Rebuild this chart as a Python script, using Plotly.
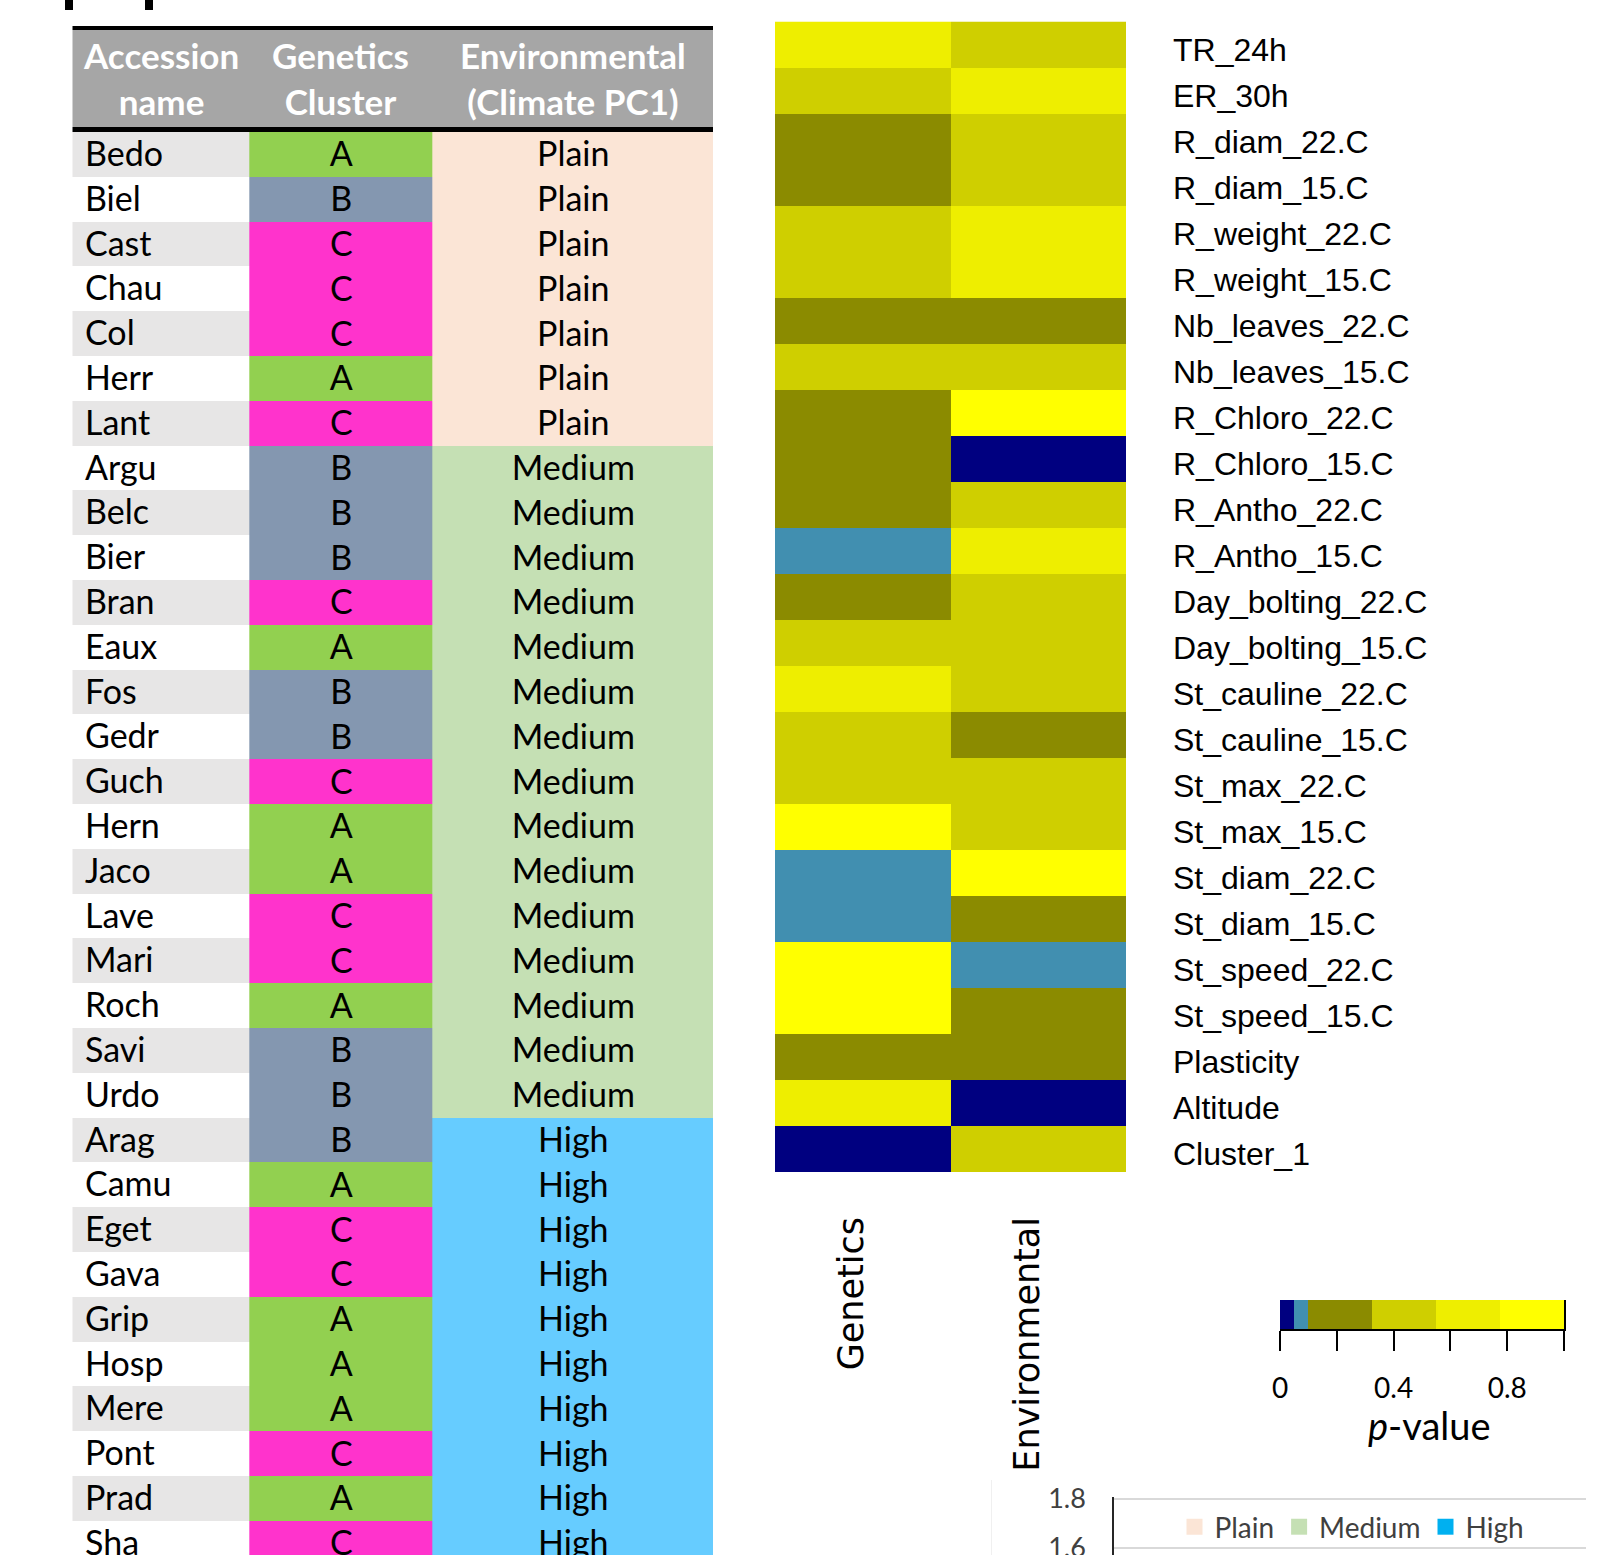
import plotly.graph_objects as go

W, H = 1605, 1555

# ---------------- data: accession table ----------------
accessions = ["Bedo", "Biel", "Cast", "Chau", "Col", "Herr", "Lant",
              "Argu", "Belc", "Bier", "Bran", "Eaux", "Fos", "Gedr", "Guch",
              "Hern", "Jaco", "Lave", "Mari", "Roch", "Savi", "Urdo",
              "Arag", "Camu", "Eget", "Gava", "Grip", "Hosp", "Mere", "Pont",
              "Prad", "Sha"]
genetic_cluster = ["A", "B", "C", "C", "C", "A", "C",
                   "B", "B", "B", "C", "A", "B", "B", "C",
                   "A", "A", "C", "C", "A", "B", "B",
                   "B", "A", "C", "C", "A", "A", "A", "C",
                   "A", "C"]
environment = ["Plain", "Plain", "Plain", "Plain", "Plain", "Plain", "Plain",
               "Medium", "Medium", "Medium", "Medium", "Medium", "Medium", "Medium", "Medium",
               "Medium", "Medium", "Medium", "Medium", "Medium", "Medium", "Medium",
               "High", "High", "High", "High", "High", "High", "High", "High",
               "High", "High"]
header_labels = ["Accession<br>name", "Genetics<br>Cluster", "Environmental<br>(Climate PC1)"]

# ---------------- data: p-value heatmap ----------------
traits = ["TR_24h", "ER_30h", "R_diam_22.C", "R_diam_15.C", "R_weight_22.C",
          "R_weight_15.C", "Nb_leaves_22.C", "Nb_leaves_15.C", "R_Chloro_22.C",
          "R_Chloro_15.C", "R_Antho_22.C", "R_Antho_15.C", "Day_bolting_22.C",
          "Day_bolting_15.C", "St_cauline_22.C", "St_cauline_15.C", "St_max_22.C",
          "St_max_15.C", "St_diam_22.C", "St_diam_15.C", "St_speed_22.C",
          "St_speed_15.C", "Plasticity", "Altitude", "Cluster_1"]
factors = ["Genetics", "Environmental"]
p_genetics = [0.65, 0.45, 0.20, 0.20, 0.45, 0.45, 0.20, 0.45, 0.20, 0.20,
              0.20, 0.07, 0.20, 0.45, 0.65, 0.45, 0.45, 0.90, 0.07, 0.07,
              0.90, 0.90, 0.20, 0.65, 0.02]
p_environmental = [0.45, 0.65, 0.45, 0.45, 0.65, 0.65, 0.20, 0.45, 0.90, 0.02,
                   0.45, 0.65, 0.45, 0.45, 0.45, 0.20, 0.45, 0.45, 0.90, 0.20,
                   0.07, 0.20, 0.20, 0.02, 0.45]
pvalue_ticks = [0, 0.2, 0.4, 0.6, 0.8, 1.0]
pvalue_ticktext = ["0", "", "0.4", "", "0.8", ""]

# ---------------- data: partial bottom chart ----------------
legend_classes = ["Plain", "Medium", "High"]
bottom_ticks = [1.6, 1.8]
bottom_ticktext = ["1.6", "1.8"]

# ---------------- styles ----------------
cluster_code = {"A": 2, "B": 3, "C": 4}
env_code = {"Plain": 5, "Medium": 6, "High": 7}
table_colors = ["#ffffff", "#e7e6e6", "#92d050", "#8497b0", "#ff33cc",
                "#fbe5d6", "#c5e0b4", "#66ccff", "#a6a6a6", "#000000"]
n_codes = len(table_colors)
table_cs = []
for i, c in enumerate(table_colors):
    table_cs.append([i / n_codes, c])
    table_cs.append([(i + 1) / n_codes, c])

pv_cs = [[0, "#000080"], [0.05, "#000080"], [0.05, "#418fb0"], [0.1, "#418fb0"],
         [0.1, "#8b8b00"], [0.325, "#8b8b00"], [0.325, "#cfcf00"], [0.55, "#cfcf00"],
         [0.55, "#eeee00"], [0.775, "#eeee00"], [0.775, "#ffff00"], [1, "#ffff00"]]
legend_colors = {"Plain": "#fbe5d6", "Medium": "#c5e0b4", "High": "#00b0f0"}

TABLE_FONT = "Lato, 'Open Sans', sans-serif"


def fx(px):
    return px / W


def fy(py):
    return 1 - py / H


# table geometry (pixels)
TBL_LEFT, TBL_TOP, TBL_RIGHT = 72.3, 26.0, 713.0
col_edges = [0, 176.7, 360.4, TBL_RIGHT - TBL_LEFT]
ROW_H = 44.8
head_edges = [0, 4, 100.5, 106]
row_edges = head_edges + [head_edges[-1] + ROW_H * (k + 1) for k in range(len(accessions))]

# ---------------- build table heatmap ----------------
z_tab = [[9, 9, 9], [8, 8, 8], [9, 9, 9]]
t_tab = [["", "", ""], ["", "", ""], ["", "", ""]]
for i in range(len(accessions)):
    z_tab.append([1 if i % 2 == 0 else 0, cluster_code[genetic_cluster[i]], env_code[environment[i]]])
    t_tab.append(["", genetic_cluster[i], environment[i]])

fig = go.Figure()
fig.add_trace(go.Heatmap(
    z=z_tab, x=col_edges, y=row_edges, text=t_tab, texttemplate="%{text}",
    textfont=dict(family=TABLE_FONT, size=34, color="black"),
    colorscale=table_cs, zmin=-0.5, zmax=n_codes - 0.5, showscale=False,
    hoverinfo="skip", xaxis="x", yaxis="y"))

annotations = []
for i, name in enumerate(accessions):
    yc = (row_edges[i + 3] + row_edges[i + 4]) / 2
    annotations.append(dict(x=10.5, y=yc, xref="x", yref="y", text=name, showarrow=False,
                            xanchor="left", yanchor="middle", yshift=2,
                            font=dict(family=TABLE_FONT, size=34, color="black")))
for j, lab in enumerate(header_labels):
    annotations.append(dict(x=(col_edges[j] + col_edges[j + 1]) / 2, y=(head_edges[1] + head_edges[2]) / 2,
                            xref="x", yref="y", text=lab, showarrow=False,
                            xanchor="center", yanchor="middle",
                            font=dict(family=TABLE_FONT, size=35, color="white", weight="bold")))

# ---------------- p-value heatmap ----------------
z_pv = [[g, e] for g, e in zip(p_genetics, p_environmental)]
CB_X0, CB_X1, CB_Y0, CB_Y1 = 1280, 1564, 1300, 1328.5
fig.add_trace(go.Heatmap(
    z=z_pv, x=factors, y=traits, colorscale=pv_cs, zmin=0, zmax=1,
    xaxis="x2", yaxis="y2", hoverinfo="skip",
    colorbar=dict(orientation="h", xref="container", yref="container",
                  x=fx(CB_X0), xanchor="left", y=fy(CB_Y0), yanchor="top",
                  len=CB_X1 - CB_X0, lenmode="pixels", thickness=CB_Y1 - CB_Y0,
                  xpad=0, ypad=0, outlinewidth=0, ticks="", showticklabels=False)))

# axis carrying the colour-bar ticks
fig.add_trace(go.Scatter(x=[None], y=[None], xaxis="x4", yaxis="y4", showlegend=False,
                         hoverinfo="skip"))

annotations.append(dict(x=fx(1429), y=fy(1425), xref="paper", yref="paper",
                        text="<i>p</i>-value", showarrow=False, xanchor="center", yanchor="middle",
                        font=dict(family=TABLE_FONT, size=38, color="black")))

# ---------------- bottom partial chart legend ----------------
for cls in legend_classes:
    fig.add_trace(go.Scatter(x=[None], y=[None], mode="markers", name=cls,
                             marker=dict(symbol="square", size=16, color=legend_colors[cls]),
                             xaxis="x3", yaxis="y3", hoverinfo="skip"))

shapes = [
    dict(type="rect", xref="paper", yref="paper", x0=fx(65), x1=fx(73), y0=fy(10), y1=1,
         fillcolor="black", line=dict(width=0)),
    dict(type="rect", xref="paper", yref="paper", x0=fx(145), x1=fx(153), y0=fy(10), y1=1,
         fillcolor="black", line=dict(width=0)),
    dict(type="line", xref="paper", yref="paper", x0=fx(991.5), x1=fx(991.5), y0=0, y1=fy(1480),
         line=dict(width=1, color="#f0f0f0")),
]

BOT_PX_PER_UNIT = 245
BOT_TOP_PX = 1497
bot_range = [1.8 - (H - 1499) / BOT_PX_PER_UNIT, 1.8 + (1499 - BOT_TOP_PX) / BOT_PX_PER_UNIT]

noaxis = dict(showgrid=False, zeroline=False, automargin=False)
fig.update_layout(
    width=W, height=H, margin=dict(l=0, r=0, t=0, b=0, pad=0, autoexpand=False),
    paper_bgcolor="white", plot_bgcolor="white",
    showlegend=True,
    legend=dict(orientation="h", xref="container", yref="container",
                x=fx(1174.5), xanchor="left", y=fy(1527), yanchor="middle",
                font=dict(family=TABLE_FONT, size=28, color="#404040"), bgcolor="rgba(0,0,0,0)",
                itemsizing="trace"),
    xaxis=dict(domain=[fx(TBL_LEFT), fx(TBL_RIGHT)], range=[0, col_edges[-1]], visible=False,
               anchor="y", **noaxis),
    yaxis=dict(domain=[0, fy(TBL_TOP)], range=[H - TBL_TOP, 0], visible=False,
               anchor="x", **noaxis),
    xaxis2=dict(domain=[fx(775), fx(1126)], anchor="y2", side="bottom", tickangle=-90,
                ticks="", ticklabelstandoff=37, ticklabelshift=-11, showline=False,
                tickfont=dict(family="DejaVu Sans", size=35, color="black"), **noaxis),
    yaxis2=dict(domain=[fy(1172), fy(21.5)], anchor="x2", side="right",
                autorange="reversed", ticks="", ticklabelstandoff=46, ticklabelshift=-5,
                showline=False,
                tickfont=dict(family="Liberation Sans, Arial", size=32, color="black"), **noaxis),
    xaxis3=dict(domain=[fx(1114), fx(1586)], anchor="y3", range=[0, 1], visible=False,
                **noaxis),
    yaxis3=dict(domain=[0, fy(BOT_TOP_PX)], anchor="x3", range=bot_range,
                tickvals=bottom_ticks, ticktext=bottom_ticktext, ticks="", showgrid=True,
                gridcolor="#d9d9d9", gridwidth=1.5, showline=True, linecolor="#262626",
                linewidth=1.5, zeroline=False, ticklabelstandoff=21, automargin=False,
                ticklabeloverflow="allow",
                tickfont=dict(family=TABLE_FONT, size=27, color="#404040")),
    xaxis4=dict(domain=[fx(CB_X0), fx(CB_X1)], anchor="y4", range=[0, 1],
                tickvals=pvalue_ticks, ticktext=pvalue_ticktext, ticks="outside", ticklen=20,
                tickwidth=2, tickcolor="black", showline=True, linewidth=2, linecolor="black",
                ticklabelstandoff=14,
                tickfont=dict(family=TABLE_FONT, size=28, color="black"), **noaxis),
    yaxis4=dict(domain=[fy(CB_Y1), fy(CB_Y0)], anchor="x4", range=[0, 1], side="right",
                showline=True, linewidth=2, linecolor="black", showticklabels=False,
                ticks="", **noaxis),
    annotations=annotations,
    shapes=shapes,
)

fig.write_html("out.html", config={"displayModeBar": False},
               post_script="document.body.style.margin='0px';")
